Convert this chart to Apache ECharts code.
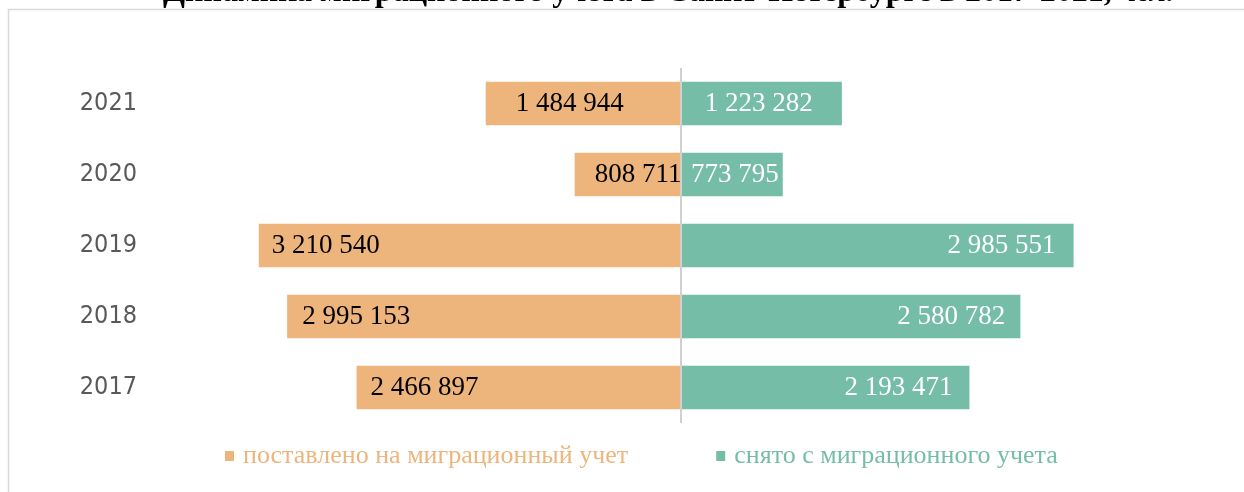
<!DOCTYPE html>
<html>
<head>
<meta charset="utf-8">
<script src="https://cdn.jsdelivr.net/npm/echarts@6/dist/echarts.min.js"></script>
<style>
  html, body { margin: 0; padding: 0; background: #fff; }
  #chart { width: 1244px; height: 492px; }
</style>
</head>
<body>
<div id="chart"></div>
<script>
const years = ["2017", "2018", "2019", "2020", "2021"];
const registered = [2466897, 2995153, 3210540, 808711, 1484944];
const deregistered = [2193471, 2580782, 2985551, 773795, 1223282];
const seriesNames = ["поставлено на миграционный учет", "снято с миграционного учета"];

// label offsets per year, as in the source
const leftLabelDist = [14, 15, 13, 20, 30];
const rightLabelDist = [17, 15, 18, 4, 29];

const fmt = (v) => Math.abs(v).toString().replace(/\B(?=(\d{3})+(?!\d))/g, " ");

const chart = echarts.init(document.getElementById("chart"));

chart.setOption({
  animation: false,
  title: {
    text: "{b|Динамика миграционного учета в Санкт-Петербурге в 2017-2021, }{i|чел.}",
    left: 163,
    top: -23,
    padding: 0,
    textStyle: {
      rich: {
        b: { fontFamily: "Liberation Serif", fontWeight: "bold", fontSize: 32, color: "#000" },
        i: { fontFamily: "Liberation Serif", fontWeight: "bold", fontStyle: "italic", fontSize: 32, color: "#000" },
      },
    },
  },
  graphic: [
    {
      type: "rect",
      shape: { x: 8.5, y: 9.5, width: 1400, height: 600 },
      style: { fill: null, stroke: "#d9d9d9", lineWidth: 1.5 },
      silent: true,
      z: -1,
    },
  ],
  legend: {
    bottom: 18,
    left: 220,
    itemWidth: 9,
    itemHeight: 10,
    itemGap: 88,
    icon: "rect",
    textStyle: { fontFamily: "Liberation Serif", fontSize: 26, padding: [0, 0, 0, 4] },
    data: [
      { name: seriesNames[0], textStyle: { color: "#EDB47B" } },
      { name: seriesNames[1], textStyle: { color: "#75BDA7" } },
    ],
  },
  grid: { left: 155, right: 37, top: 68, bottom: 69 },
  xAxis: {
    type: "value",
    min: -4000000,
    max: 4000000,
    show: false,
  },
  yAxis: {
    type: "category",
    data: years,
    axisLine: { show: false, onZero: false },
    axisTick: { show: false },
    axisLabel: {
      margin: 18,
      fontFamily: "DejaVu Sans Condensed",
      fontSize: 25,
      color: "#595959",
    },
  },
  series: [
    {
      name: seriesNames[0],
      type: "bar",
      stack: "total",
      barCategoryGap: "39%",
      itemStyle: { color: "#EDB47B" },
      data: registered.map((v, i) => ({
        value: -v,
        label: { distance: leftLabelDist[i] },
      })),
      label: {
        show: true,
        position: "insideLeft",
        fontFamily: "Liberation Serif",
        fontSize: 27,
        color: "#000",
        formatter: (p) => fmt(p.value),
      },
      markLine: {
        silent: true,
        symbol: "none",
        label: { show: false },
        lineStyle: { color: "#d0d0d0", type: "solid", width: 2 },
        data: [{ xAxis: 0 }],
        z: 5,
      },
    },
    {
      name: seriesNames[1],
      type: "bar",
      stack: "total",
      barCategoryGap: "39%",
      itemStyle: { color: "#75BDA7" },
      data: deregistered.map((v, i) => ({
        value: v,
        label: { distance: rightLabelDist[i] },
      })),
      label: {
        show: true,
        position: "insideRight",
        fontFamily: "Liberation Serif",
        fontSize: 27,
        color: "#fff",
        formatter: (p) => fmt(p.value),
      },
    },
  ],
});
</script>
</body>
</html>
